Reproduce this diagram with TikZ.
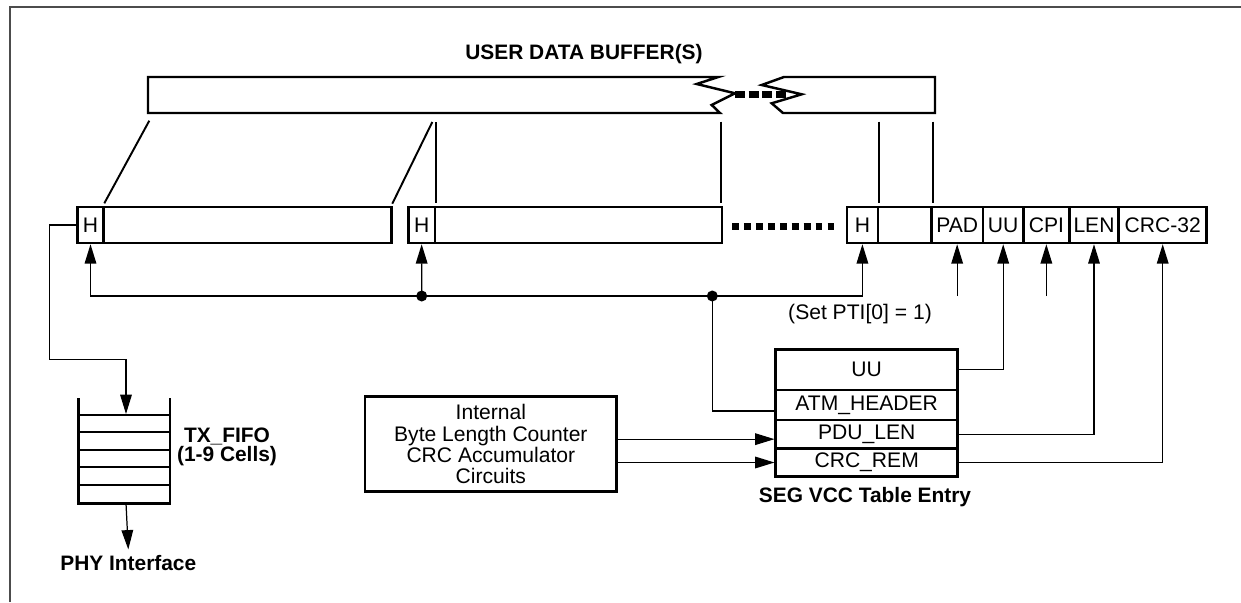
\documentclass[tikz,border=0pt]{standalone}
\usepackage{fontspec}
\setmainfont{Liberation Sans}
\usetikzlibrary{arrows.meta,calc}
\begin{document}
\begin{tikzpicture}[x=0.02cm,y=-0.02cm,
  font=\fontsize{12}{12.1}\selectfont,
  >={Triangle[length=11pt,width=6.6pt]},
  cellbox/.style={draw,line width=1.4pt,inner sep=0pt,rectangle},
  pbox/.style args={#1:#2:#3:#4}{minimum width={(#3-#1)*0.02cm},minimum height={(#4-#2)*0.02cm},at={({(#1+#3)/2},{(#2+#4)/2})}},
  conn/.style={line width=0.7pt},
  dot/.style={circle,fill,inner sep=0pt,minimum size=0.22cm},
  mapline/.style={line width=1.1pt},
  lbl/.style={font=\fontsize{11.9}{10.8}\selectfont\bfseries,align=center},
  bufshape/.style={line width=1.4pt,line join=miter},
  bigdash/.style={line width=4pt,dash pattern=on 5.6pt off 2.2pt},
  celldash/.style={line width=3.8pt,dash pattern=on 3.9pt off 2.9pt},
  frame/.style={draw=black!70,line width=0.6pt}
]
\useasboundingbox (0,0) rectangle (1241,602);

% frame (top and left edges only)
\coordinate (frbl) at (10,602);
\coordinate (frtl) at (10,7);
\coordinate (frtr) at (1241,7);
\draw[frame] (frbl) -- (frtl) -- (frtr);

% user data buffers
\node[lbl] (ubuf) at (584,54) {USER DATA BUFFER(S)};
\draw[bufshape] (148,77) -- (718.3,77) -- (696.7,84) -- (735,93.3) -- (711.7,105) -- (720,113) -- (148,113) -- cycle;
\draw[bufshape] (784,77) -- (935,77) -- (935,113) -- (783,113) -- (771.7,103.3) -- (801.7,94.3) -- (761.7,85) -- cycle;
\draw[bigdash] (735,94.3) -- (789,94.3);

% cells
\node[cellbox,pbox=77.7:207:103.3:243] (c1h) {H};
\node[cellbox,pbox=103.3:207:391.7:243] (c1d) {};
\node[cellbox,pbox=408.3:207:435:243] (c2h) {H};
\node[cellbox,pbox=435:207:722:243] (c2d) {};
\node[cellbox,pbox=847:207:877.8:243] (c3h) {H};
\node[cellbox,pbox=877.8:207:931.3:243] (c3d) {};
\node[cellbox,pbox=931.3:207:983:243] (cpad) {PAD};
\node[cellbox,pbox=983:207:1023.4:243] (cuu) {UU};
\node[cellbox,pbox=1023.4:207:1069.3:243] (ccpi) {CPI};
\node[cellbox,pbox=1069.3:207:1118.7:243] (clen) {LEN};
\node[cellbox,pbox=1118.7:207:1206.7:243] (ccrc) {CRC-32};
\draw[celldash] (732,226.7) -- (837,226.7);

% mapping lines buffer -> cells
\coordinate (b1) at (149.3,120.7); \coordinate (m1) at (104.3,203.3);
\coordinate (b2) at (432.3,122);   \coordinate (m2) at (392.3,203.7);
\coordinate (b3) at (436,122);     \coordinate (m3) at (436,203);
\coordinate (b4) at (720.7,121.7); \coordinate (m4) at (720.7,203.3);
\coordinate (b5) at (879.3,121.7); \coordinate (m5) at (879.3,203.3);
\coordinate (b6) at (932.7,121.7); \coordinate (m6) at (932.7,203.3);
\foreach \i in {1,...,6} \draw[mapline] (b\i) -- (m\i);

% header bus
\coordinate (d1) at (421.7,296);
\coordinate (d2) at (712.3,296);
\draw[conn,<->] (c1h.south) |- (d1) -- (d2) -| (c3h.south);
\draw[conn,->] (d1) -- (c2h.south);
\node[dot] (dot1) at (d1) {};
\node[dot] (dot2) at (d2) {};
\node (pti) at (860,314) {(Set PTI[0] = 1)};

% short arrows
\draw[conn,->] (cpad.south |- d1) -- (cpad.south);
\draw[conn,->] (ccpi.south |- d1) -- (ccpi.south);

% SEG VCC table entry
\node[cellbox,pbox=775.7:349.3:957.7:390] (tuu) {UU};
\node[cellbox,pbox=775.7:390:957.7:420] (tatm) {ATM\_HEADER};
\node[cellbox,pbox=775.7:420:957.7:448.3] (tpdu) {PDU\_LEN};
\node[cellbox,pbox=775.7:448.3:957.7:476.7] (tcrc) {CRC\_REM};
\node[lbl] (seglbl) at (865,497) {SEG VCC Table Entry};

\coordinate (atmin) at ($(tatm.west)+(0,6)$);
\draw[conn] (d2) |- (atmin);
\draw[conn,->] (tuu.east) -| (cuu.south);
\draw[conn,->] (tpdu.east) -| (clen.south);
\draw[conn,->] (tcrc.east) -| (ccrc.south);

% internal circuits
\node[cellbox,pbox=365:396.7:616.7:491.7,align=center] (ibox) {Internal\\Byte Length Counter\\CRC Accumulator\\Circuits};
\coordinate (pduin) at ($(tpdu.west)+(0,5)$);
\draw[conn,->] (ibox.east |- pduin) -- (pduin);
\draw[conn,->] (ibox.east |- tcrc.west) -- (tcrc.west);

% TX FIFO
\draw[line width=1.4pt] (78.3,398.3) -- (78.3,503.3) -- (170,503.3) -- (170,398.3);
\foreach \yy in {415,432.3,450,467.3,485} \draw[line width=1.1pt] (78.3,\yy) -- (170,\yy);
\coordinate (fifotop) at (126,414);
\coordinate (fifobot) at (126,503.3);
\coordinate (bend1) at (49.3,359.3);
\draw[conn,->] (c1h.west) -| (bend1) -| (fifotop);
\node[lbl] (fifolbl) at (227,447) {TX\_FIFO\\(1-9 Cells)};
\node[lbl] (phy) at (128.3,563.3) {PHY Interface};
\draw[conn,->] (fifobot) -- (phy.north);
\end{tikzpicture}
\end{document}
